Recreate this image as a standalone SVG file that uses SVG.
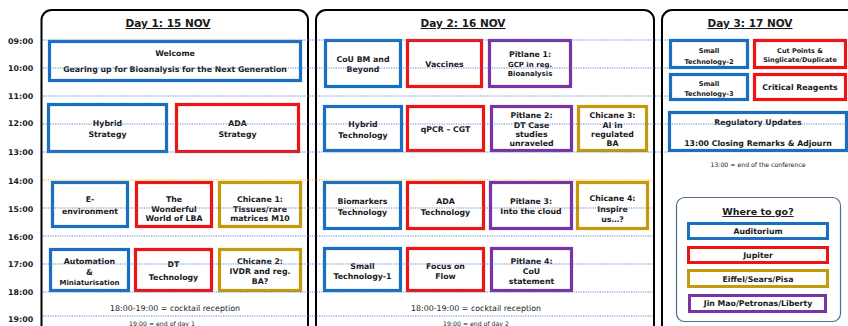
<svg xmlns="http://www.w3.org/2000/svg" width="848" height="326" viewBox="0 0 848 326">
<style>
text{font-family:"DejaVu Sans","Open Sans","Liberation Sans",sans-serif;fill:#1a1a1a;text-anchor:middle}
.t{font-weight:bold;font-size:7.9px;text-anchor:start}
.h{font-weight:bold;font-size:10.5px;text-decoration:underline}
.n{font-weight:bold;font-size:7.8px}
.s{font-weight:bold;font-size:7px}
.c{font-size:7.9px}
.e{font-size:6.2px}
.panel{fill:#fff;stroke:#000;stroke-width:2}
.bl{fill:#fff;stroke:#1b6fc0;stroke-width:3.2}
.rd{fill:#fff;stroke:#ee1414;stroke-width:3.2}
.gd{fill:#fff;stroke:#c49a0c;stroke-width:3.2}
.pu{fill:#fff;stroke:#7634a6;stroke-width:3.2}
.g{stroke:#4a78c8;stroke-width:.9;stroke-dasharray:1.2 1.2}
.gy{stroke:#f2b600;stroke-width:.9;stroke-dasharray:1.2 1.2}
</style>
<rect width="848" height="326" fill="#fff"/>
<g id="panels">
<rect class="panel" x="41.5" y="10" width="266.5" height="340" rx="10"/>
<rect class="panel" x="316" y="10" width="338" height="340" rx="10"/>
<rect class="panel" x="662" y="10" width="210" height="340" rx="10"/>
</g>
<g id="times">
<text class="t" x="8" y="44">09:00</text>
<text class="t" x="8" y="71">10:00</text>
<text class="t" x="8" y="99">11:00</text>
<text class="t" x="8" y="126">12:00</text>
<text class="t" x="8" y="155">13:00</text>
<text class="t" x="8" y="184">14:00</text>
<text class="t" x="8" y="212">15:00</text>
<text class="t" x="8" y="240">16:00</text>
<text class="t" x="8" y="267">17:00</text>
<text class="t" x="8" y="295">18:00</text>
<text class="t" x="8" y="322">19:00</text>
</g>
<g id="titles">
<text class="h" x="168" y="27">Day 1: 15 NOV</text>
<text class="h" x="463" y="27">Day 2: 16 NOV</text>
<text class="h" x="750" y="27">Day 3: 17 NOV</text>
</g>
<g id="day1">
<g id="welcome"><rect class="bl" x="49.5" y="41.5" width="251" height="39"/><text class="n" x="175" y="56">Welcome</text><text class="n" x="175" y="72">Gearing up for Bioanalysis for the Next Generation</text></g>
<g id="hybrid-strategy"><rect class="bl" x="48.5" y="104.5" width="118" height="47"/><text class="n" x="107.5" y="126">Hybrid</text><text class="n" x="107.5" y="137">Strategy</text></g>
<g id="ada-strategy"><rect class="rd" x="176.5" y="104.5" width="122" height="47"/><text class="n" x="237.5" y="126">ADA</text><text class="n" x="237.5" y="137">Strategy</text></g>
<g id="e-environment"><rect class="bl" x="52.5" y="182.5" width="75" height="44"/><text class="n" x="90" y="202">E-</text><text class="n" x="90" y="214">environment</text></g>
<g id="lba"><rect class="rd" x="136.5" y="182.5" width="75" height="44"/><text class="n" x="174" y="202">The</text><text class="n" x="174" y="211.5">Wonderful</text><text class="n" x="174" y="221">World of LBA</text></g>
<g id="chicane1"><rect class="gd" x="219.5" y="182.5" width="81" height="44"/><text class="n" x="260" y="202">Chicane 1:</text><text class="n" x="260" y="211.5">Tissues/rare</text><text class="n" x="260" y="221">matrices M10</text></g>
<g id="automation"><rect class="bl" x="50.5" y="249.5" width="78" height="41"/><text class="n" x="89.5" y="264">Automation</text><text class="n" x="89.5" y="274.5">&amp;</text><text class="n" x="89.5" y="284.5" style="font-size:7px">Miniaturisation</text></g>
<g id="dt-technology"><rect class="rd" x="135.5" y="249.5" width="76" height="41"/><text class="n" x="173.5" y="267">DT</text><text class="n" x="173.5" y="280">Technology</text></g>
<g id="chicane2"><rect class="gd" x="219.5" y="249.5" width="81" height="41"/><text class="n" x="260" y="264">Chicane 2:</text><text class="n" x="260" y="273.5">IVDR and reg.</text><text class="n" x="260" y="283.5">BA?</text></g>
<text class="c" x="175" y="311">18:00-19:00 = cocktail reception</text>
<text class="e" x="162" y="326">19:00 = end of day 1</text>
</g>
<g id="day2">
<g id="cou-bm"><rect class="bl" x="325.5" y="40.5" width="75" height="46"/><text class="n" x="363" y="62">CoU BM and</text><text class="n" x="363" y="72">Beyond</text></g>
<g id="vaccines"><rect class="rd" x="407.5" y="40.5" width="74" height="46"/><text class="n" x="444.5" y="67">Vaccines</text></g>
<g id="pitlane1"><rect class="pu" x="489.5" y="40.5" width="81" height="46"/><text class="n" x="530" y="57">Pitlane 1:</text><text class="s" x="530" y="67">GCP in reg.</text><text class="s" x="530" y="76">Bioanalysis</text></g>
<g id="hybrid-technology"><rect class="bl" x="324.5" y="106.5" width="77" height="44"/><text class="n" x="363" y="127">Hybrid</text><text class="n" x="363" y="138">Technology</text></g>
<g id="qpcr"><rect class="rd" x="407.5" y="106.5" width="76" height="44"/><text class="n" x="445.5" y="132">qPCR – CGT</text></g>
<g id="pitlane2"><rect class="pu" x="491.5" y="106.5" width="80" height="44"/><text class="n" x="531.5" y="118">Pitlane 2:</text><text class="n" x="531.5" y="128">DT Case</text><text class="n" x="531.5" y="137">studies</text><text class="n" x="531.5" y="146">unraveled</text></g>
<g id="chicane3"><rect class="gd" x="578.5" y="106.5" width="68" height="44"/><text class="n" x="612.5" y="118">Chicane 3:</text><text class="n" x="612.5" y="127.5">AI in</text><text class="n" x="612.5" y="137">regulated</text><text class="n" x="612.5" y="146">BA</text></g>
<g id="biomarkers"><rect class="bl" x="324.5" y="182.5" width="76" height="46"/><text class="n" x="362.5" y="204">Biomarkers</text><text class="n" x="362.5" y="215">Technology</text></g>
<g id="ada-technology"><rect class="rd" x="407.5" y="182.5" width="76" height="46"/><text class="n" x="445.5" y="204">ADA</text><text class="n" x="445.5" y="215">Technology</text></g>
<g id="pitlane3"><rect class="pu" x="490.5" y="182.5" width="81" height="46"/><text class="n" x="531" y="204">Pitlane 3:</text><text class="n" x="531" y="214">Into the cloud</text></g>
<g id="chicane4"><rect class="gd" x="577.5" y="182.5" width="70" height="46"/><text class="n" x="612.5" y="201">Chicane 4:</text><text class="n" x="612.5" y="212">Inspire</text><text class="n" x="612.5" y="222">us…?</text></g>
<g id="small-tech-1"><rect class="bl" x="324.5" y="248.5" width="76" height="42"/><text class="n" x="362.5" y="269">Small</text><text class="n" x="362.5" y="279">Technology-1</text></g>
<g id="focus-flow"><rect class="rd" x="407.5" y="248.5" width="76" height="42"/><text class="n" x="445.5" y="269">Focus on</text><text class="n" x="445.5" y="278.5">Flow</text></g>
<g id="pitlane4"><rect class="pu" x="491.5" y="248.5" width="80" height="42"/><text class="n" x="531.5" y="264">Pitlane 4:</text><text class="n" x="531.5" y="274">CoU</text><text class="n" x="531.5" y="284">statement</text></g>
<text class="c" x="476" y="311">18:00-19:00 = cocktail reception</text>
<text class="e" x="476" y="326">19:00 = end of day 2</text>
</g>
<g id="day3">
<g id="small-tech-2"><rect class="bl" x="670.5" y="40.5" width="77" height="27"/><text class="s" x="709" y="53" style="font-size:6.6px">Small</text><text class="s" x="709" y="64" style="font-size:6.6px">Technology-2</text></g>
<g id="cut-points"><rect class="rd" x="754.5" y="40.5" width="91" height="27"/><text class="s" x="800" y="53" style="font-size:6.5px">Cut Points &amp;</text><text class="s" x="800" y="62" style="font-size:6.5px">Singlicate/Duplicate</text></g>
<g id="small-tech-3"><rect class="bl" x="670.5" y="74.5" width="77" height="25"/><text class="s" x="709" y="86" style="font-size:6.6px">Small</text><text class="s" x="709" y="96" style="font-size:6.6px">Technology-3</text></g>
<g id="critical-reagents"><rect class="rd" x="754.5" y="74.5" width="91" height="25"/><text class="n" x="800" y="90">Critical Reagents</text></g>
<g id="regulatory"><rect class="bl" x="669.5" y="112.5" width="177" height="38"/><text class="n" x="758" y="125">Regulatory Updates</text><text class="n" x="758" y="146">13:00 Closing Remarks &amp; Adjourn</text></g>
<text class="e" x="758" y="167">13:00 = end of the conference</text>
<g id="legend">
<rect x="676.5" y="197.5" width="164" height="124" rx="8" fill="#fff" stroke="#4f6b8e" stroke-width="1.2"/>
<text class="n" x="758" y="215" style="font-size:9.5px;text-decoration:underline">Where to go?</text>
<g id="leg-auditorium"><rect class="bl" x="688.5" y="223.5" width="139" height="15" style="stroke-width:3"/><text class="n" x="758" y="234">Auditorium</text></g>
<g id="leg-jupiter"><rect class="rd" x="688.5" y="247.5" width="139" height="15" style="stroke-width:3"/><text class="n" x="758" y="258">Jupiter</text></g>
<g id="leg-eiffel"><rect class="gd" x="688.5" y="270.5" width="139" height="16" style="stroke-width:3"/><text class="n" x="758" y="281.5">Eiffel/Sears/Pisa</text></g>
<g id="leg-jinmao"><rect class="pu" x="689.5" y="295.5" width="136" height="16" style="stroke-width:3"/><text class="n" x="758" y="306">Jin Mao/Petronas/Liberty</text></g>
</g>
</g>
<g id="connectors">
<line class="g" x1="43" y1="40" x2="668" y2="40"/>
<line class="g" x1="43" y1="68" x2="668" y2="68"/>
<line class="g" x1="43" y1="96" x2="668" y2="96"/>
<line class="g" x1="43" y1="124" x2="846" y2="124"/>
<line class="g" x1="43" y1="152" x2="668" y2="152"/>
<line class="gy" x1="43" y1="180" x2="653" y2="180"/>
<line class="g" x1="43" y1="208" x2="653" y2="208"/>
<line class="g" x1="43" y1="236" x2="653" y2="236"/>
<line class="g" x1="43" y1="264" x2="653" y2="264"/>
<line class="g" x1="43" y1="292" x2="653" y2="292"/>
<line class="g" x1="43" y1="316" x2="653" y2="316"/>
</g>
</svg>
